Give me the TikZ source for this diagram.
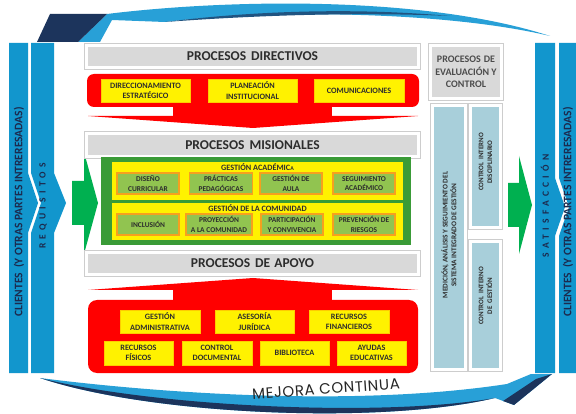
\documentclass[tikz,border=0pt]{standalone}
\usepackage{fontspec}
\setmainfont{Carlito}
\newfontfamily\mejfont{Poppins}
\definecolor{barblue}{RGB}{18,150,205}
\definecolor{navytext}{RGB}{28,42,78}
\definecolor{gbar}{RGB}{217,217,217}
\definecolor{framegray}{RGB}{205,205,205}
\definecolor{lblue}{RGB}{168,207,218}
\definecolor{outgreen}{RGB}{58,155,55}
\definecolor{ingreen}{RGB}{145,196,80}
\definecolor{orangeb}{RGB}{246,160,30}
\definecolor{arrgreen}{RGB}{0,176,80}
\definecolor{swlight}{RGB}{40,160,215}
\definecolor{swdark}{RGB}{28,52,92}
\definecolor{txtdark}{RGB}{45,45,45}
\begin{document}
\begin{tikzpicture}[x=1pt,y=-1pt,
  framed/.style={preaction={draw=framegray, line width=4.5pt}, draw=white, line width=3pt, inner sep=0pt},
  graybar/.style={framed, fill=gbar, font=\bfseries\fontsize{13.5}{15}\selectfont, text=txtdark},
  lbox/.style={framed, fill=lblue, align=center, text=txtdark},
  ybox/.style={fill=yellow, draw=orange!40!yellow, line width=0.6pt, inner sep=0pt, align=center, font=\bfseries\fontsize{8.2}{10.2}\selectfont, text=txtdark},
  gbox/.style={fill=ingreen, draw=orangeb, line width=1.6pt, inner sep=0pt, align=center, font=\bfseries\fontsize{7.4}{9.6}\selectfont, text=txtdark},
  ylab/.style={font=\bfseries\fontsize{8.2}{9}\selectfont, text=txtdark, inner sep=0pt},
  vtext/.style={rotate=90, font=\bfseries\fontsize{11.5}{13}\selectfont, text=navytext, inner sep=0pt},
  spaced/.style={rotate=90, font=\bfseries\fontsize{9.5}{10}\selectfont\addfontfeature{LetterSpace=45}, text=navytext, inner sep=0pt}
]
\useasboundingbox (0,0) rectangle (576,414);
\begin{scope}
\clip (0,0) rectangle (576,414);
\fill[white] (0,0) rectangle (576,414);

% top swoosh
\fill[swlight] (78,42) -- (107,14) .. controls (220,0) and (420,-6) .. (550,36) .. controls (440,10) and (260,10) .. (165,22) -- (112,20) -- (100,42) -- cycle;
\fill[swdark!70!swlight] (165,22) .. controls (260,10) and (360,8) .. (450,16) .. controls (360,12) and (260,15) .. (165,22) -- cycle;
\fill[swdark] (37,42) -- (50,14) -- (107,14) -- (78,42) -- cycle;

% bottom swoosh
\fill[swlight] (40,378) .. controls (150,392) and (350,408) .. (507,384) -- (531,374) -- (552,374) -- (514,405) -- (495,398) .. controls (380,425) and (150,415) .. (40,378) -- cycle;
\fill[swdark] (40,378) .. controls (150,415) and (380,425) .. (495,398) .. controls (380,418) and (150,406) .. (40,378) -- cycle;
\fill[swdark] (552,374) -- (514,405) -- (503,401) -- (536,379) -- cycle;
\node[font=\mejfont\fontsize{15}{16}\selectfont\addfontfeature{LetterSpace=4}, text=black!85, rotate=4, inner sep=0pt] (mejora) at (326,389) {MEJORA CONTINUA};

% left blue bars
\fill[barblue] (9,43) -- (28,43) -- (28,173) -- (38,203) -- (28,233) -- (28,373) -- (9,373) -- cycle;
\fill[barblue] (31,43) -- (54,43) -- (54,173) -- (66,203) -- (54,233) -- (54,373) -- (31,373) -- (31,233) -- (41,203) -- (31,173) -- cycle;
\node[vtext] (clientesL) at (19,212) {CLIENTES\ \ (Y OTRAS PARTES INTRERESADAS)};
\node[spaced] (requisitos) at (43,206) {REQUISITOS};

% right blue bars
\fill[barblue] (535,43) -- (555,43) -- (555,178) -- (565,207) -- (555,236) -- (555,373) -- (535,373) -- cycle;
\fill[barblue] (559,43) -- (580,43) -- (580,373) -- (559,373) -- (559,236) -- (569,207) -- (559,178) -- cycle;
\node[spaced] (satisf) at (545,206) {SATISFACCIÓN};
\node[vtext] (clientesR) at (568,212) {CLIENTES\ \ (Y OTRAS PARTES INTRERESADAS)};

% green arrows
\fill[arrgreen] (72,181) -- (84,181) -- (84,152) -- (98,203) -- (84,254) -- (84,225) -- (72,225) -- cycle;
\fill[arrgreen] (508,183) -- (519,183) -- (519,156) -- (532,205) -- (519,254) -- (519,227) -- (508,227) -- cycle;

% directivos
\node[graybar, minimum width=332, minimum height=22] (dir) at (252.5,56.5) {PROCESOS\hspace{5pt}DIRECTIVOS};
\node[fill=red, rounded corners=7pt, minimum width=332, minimum height=33, inner sep=0pt] (redtop) at (253,90.5) {};
\fill[red] (173,106) rectangle (332,116.5);
\fill[red] (88,116) -- (418,116) -- (253,128) -- cycle;
\node[ybox, minimum width=89, minimum height=23] (dirE) at (145.5,90.5) {DIRECCIONAMIENTO\\ESTRATÉGICO};
\node[ybox, minimum width=89, minimum height=23] (plan) at (252.5,90.5) {PLANEACIÓN\\INSTITUCIONAL};
\node[ybox, minimum width=90, minimum height=23] (com) at (359,90.5) {COMUNICACIONES};

% misionales
\node[graybar, minimum width=332, minimum height=23] (mis) at (252.5,145) {PROCESOS\hspace{5pt}MISIONALES};
\node[fill=outgreen, minimum width=310, minimum height=88, inner sep=0pt] (green) at (256,201) {};
\node[fill=yellow, minimum width=291, minimum height=38, inner sep=0pt] (acad) at (257.5,181) {};
\node[fill=yellow, minimum width=291, minimum height=37, inner sep=0pt] (comu) at (257.5,221.5) {};
\node[ylab] (acadlbl) at (257.5,167.5) {GESTIÓN ACADÉMIC{\fontsize{5.8}{6}\selectfont A}};
\node[ylab] (comulbl) at (257.5,208.5) {GESTIÓN DE LA COMUNIDAD};
\node[gbox, minimum width=62, minimum height=21] (dis) at (148,183.5) {DISEÑO\\CURRICULAR};
\node[gbox, minimum width=63, minimum height=21] (pra) at (221,183.5) {PRÁCTICAS\\PEDAGÓGICAS};
\node[gbox, minimum width=62, minimum height=21] (aula) at (291,183.5) {GESTIÓN DE\\AULA};
\node[gbox, minimum width=62, minimum height=21] (seg) at (364,183.5) {SEGUIMIENTO\\ACADÉMICO};
\node[gbox, minimum width=62, minimum height=21] (inc) at (148,224.5) {INCLUSIÓN};
\node[gbox, minimum width=66, minimum height=21] (pro) at (219,224.5) {PROYECCIÓN\\A LA COMUNIDAD};
\node[gbox, minimum width=62, minimum height=21] (par) at (292,224.5) {PARTICIPACIÓN\\Y CONVIVENCIA};
\node[gbox, minimum width=62, minimum height=21] (prev) at (364,224.5) {PREVENCIÓN DE\\RIESGOS};

% apoyo
\node[graybar, minimum width=332, minimum height=22] (apo) at (252.5,263.5) {PROCESOS\hspace{5pt}DE\hspace{4pt}APOYO};
\fill[red] (88,290) -- (418,290) -- (253,278) -- cycle;
\fill[red] (173,289) rectangle (332,301);
\node[fill=red, rounded corners=9pt, minimum width=330, minimum height=73, inner sep=0pt] (redbot) at (253,336.5) {};
\node[ybox, minimum width=80, minimum height=23] (gadm) at (160,321.5) {GESTIÓN\\ADMINISTRATIVA};
\node[ybox, minimum width=79, minimum height=23] (ase) at (254.5,321.5) {ASESORÍA\\JURÍDICA};
\node[ybox, minimum width=80, minimum height=23] (rfin) at (349,321.5) {RECURSOS\\FINANCIEROS};
\node[ybox, minimum width=69, minimum height=24] (rfis) at (138.5,353) {RECURSOS\\FÍSICOS};
\node[ybox, minimum width=70, minimum height=24] (cdoc) at (217,353) {CONTROL\\DOCUMENTAL};
\node[ybox, minimum width=69, minimum height=24] (bib) at (294.5,353) {BIBLIOTECA};
\node[ybox, minimum width=69, minimum height=24] (ayu) at (371.5,353) {AYUDAS\\EDUCATIVAS};

% evaluacion y control
\node[graybar, align=center, font=\bfseries\fontsize{10}{12.5}\selectfont, text=black!70, minimum width=71, minimum height=53] (eval) at (466,72) {PROCESOS\hspace{3pt}DE\\EVALUACIÓN Y\\CONTROL};
\node[lbox, minimum width=33, minimum height=264] (med) at (449,237.5) {};
\node[rotate=90, align=center, font=\bfseries\fontsize{7.3}{8.6}\selectfont, text=txtdark, inner sep=0pt] (medtxt) at (449,235) {MEDICIÓN, ANÁLISIS Y SEGUIMIENTO DEL\\SISTEMA INTEGRADO DE GESTIÓN};
\node[lbox, minimum width=30, minimum height=122] (cid) at (485.5,166.5) {};
\node[rotate=90, align=center, font=\bfseries\fontsize{7}{8.6}\selectfont, text=txtdark, inner sep=0pt] (cidtxt) at (485.5,162) {CONTROL\hspace{3pt}INTERNO\\DISCIPLINARIO};
\node[lbox, minimum width=30, minimum height=128] (cig) at (485.5,305.5) {};
\node[rotate=90, align=center, font=\bfseries\fontsize{7}{8.6}\selectfont, text=txtdark, inner sep=0pt] (cigtxt) at (485.5,296) {CONTROL\hspace{3pt}INTERNO\\DE\hspace{3pt}GESTIÓN};
\end{scope}
\end{tikzpicture}
\end{document}
